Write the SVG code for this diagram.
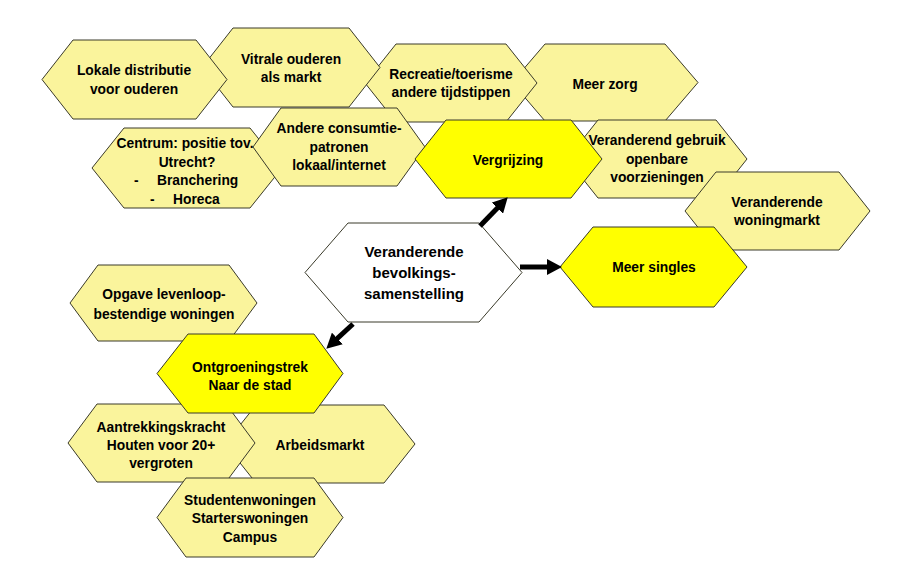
<svg xmlns="http://www.w3.org/2000/svg" width="920" height="582" viewBox="0 0 920 582">
<style>
.hx{fill:#FAF49C;stroke:#3a3a2a;stroke-width:1}
.hb{fill:#FFFF00;stroke:#3a3a2a;stroke-width:1}
.hw{fill:#FFFFFF;stroke:#3a3a2a;stroke-width:1}
text{font-family:"Liberation Sans",Arial,sans-serif;font-weight:bold;font-size:13.8px;fill:#000;text-anchor:middle}
.big{font-size:15px}
.st{text-anchor:start}
.ar{stroke:#000;stroke-width:5;fill:none}
</style>
<defs>
<marker id="ah" markerUnits="userSpaceOnUse" markerWidth="16" markerHeight="16" refX="4" refY="8" orient="auto" viewBox="0 0 16 16">
<path d="M0,0 L15,8 L0,16 z" fill="#000"/>
</marker>
</defs>
<rect width="920" height="582" fill="#FFFFFF"/>
<g id="meer-zorg"><polygon class="hx" points="512,82.5 545,44 665,44 698,82.5 665,121 545,121"/><text x="605" y="89">Meer zorg</text></g>
<g id="recreatie"><polygon class="hx" points="365,83 396,44 506,44 537,83 506,122 396,122"/><text x="451" y="79">Recreatie/toerisme</text><text x="451" y="97">andere tijdstippen</text></g>
<g id="vitrale"><polygon class="hx" points="202,67.5 233,28 349,28 380,67.5 349,107 233,107"/><text x="291" y="64">Vitrale ouderen</text><text x="291" y="82">als markt</text></g>
<g id="lokale"><polygon class="hx" points="42,79.5 73,40 196,40 227,79.5 196,119 73,119"/><text x="134" y="75">Lokale distributie</text><text x="134" y="94">voor ouderen</text></g>
<g id="centrum"><polygon class="hx" points="92,168 124,128 250,128 282,168 250,208 124,208"/><text x="185" y="148">Centrum: positie tov.</text><text x="187" y="167">Utrecht?</text><text class="st" x="134" y="185">-</text><text class="st" x="157" y="185">Branchering</text><text class="st" x="150" y="204">-</text><text class="st" x="173" y="204">Horeca</text></g>
<g id="andere"><polygon class="hx" points="253,147 281,108 397,108 425,147 397,186 281,186"/><text x="339" y="133">Andere consumtie-</text><text x="339" y="152">patronen</text><text x="339" y="170">lokaal/internet</text></g>
<g id="veranderend-gebruik"><polygon class="hx" points="567,159 598,120 716,120 747,159 716,198 598,198"/><text x="657" y="145">Veranderend gebruik</text><text x="657" y="164">openbare</text><text x="657" y="182">voorzieningen</text></g>
<g id="woningmarkt"><polygon class="hx" points="685,211 716,172 839,172 870,211 839,250 716,250"/><text x="777" y="207">Veranderende</text><text x="777" y="225">woningmarkt</text></g>
<g id="vergrijzing"><polygon class="hb" points="415,159 446,120 571,120 602,159 571,198 446,198"/><text x="508" y="165">Vergrijzing</text></g>
<g id="meer-singles"><polygon class="hb" points="560,267 593,227 714,227 747,267 714,307 593,307"/><text x="654" y="272">Meer singles</text></g>
<g id="bevolking"><polygon class="hw" points="305,272.5 348,223 479,223 522,272.5 479,322 348,322"/><text class="big" x="414" y="257">Veranderende</text><text class="big" x="414" y="278">bevolkings-</text><text class="big" x="414" y="299">samenstelling</text></g>
<g id="opgave"><polygon class="hx" points="70,303 98,265 229,265 257,303 229,341 98,341"/><text x="164" y="299">Opgave levenloop-</text><text x="164" y="319">bestendige woningen</text></g>
<g id="arbeidsmarkt"><polygon class="hx" points="225,444 256,405 384,405 415,444 384,483 256,483"/><text x="320" y="450">Arbeidsmarkt</text></g>
<g id="aantrekkingskracht"><polygon class="hx" points="68,443 97,404 226,404 255,443 226,482 97,482"/><text x="161" y="432">Aantrekkingskracht</text><text x="161" y="450">Houten voor 20+</text><text x="161" y="468">vergroten</text></g>
<g id="studenten"><polygon class="hx" points="157,517.5 186,478 314,478 343,517.5 314,557 186,557"/><text x="250" y="505">Studentenwoningen</text><text x="250" y="523">Starterswoningen</text><text x="250" y="542">Campus</text></g>
<g id="ontgroening"><polygon class="hb" points="157,373.5 188,334 314,334 343,373.5 314,413 188,413"/><text x="250" y="372">Ontgroeningstrek</text><text x="250" y="390">Naar de stad</text></g>
<g id="connectors">
<line class="ar" x1="480" y1="226" x2="500.1" y2="205.2" marker-end="url(#ah)"/>
<line class="ar" x1="520" y1="267" x2="551" y2="267" marker-end="url(#ah)"/>
<line class="ar" x1="353" y1="324" x2="334.4" y2="341.2" marker-end="url(#ah)"/>
</g>
</svg>
